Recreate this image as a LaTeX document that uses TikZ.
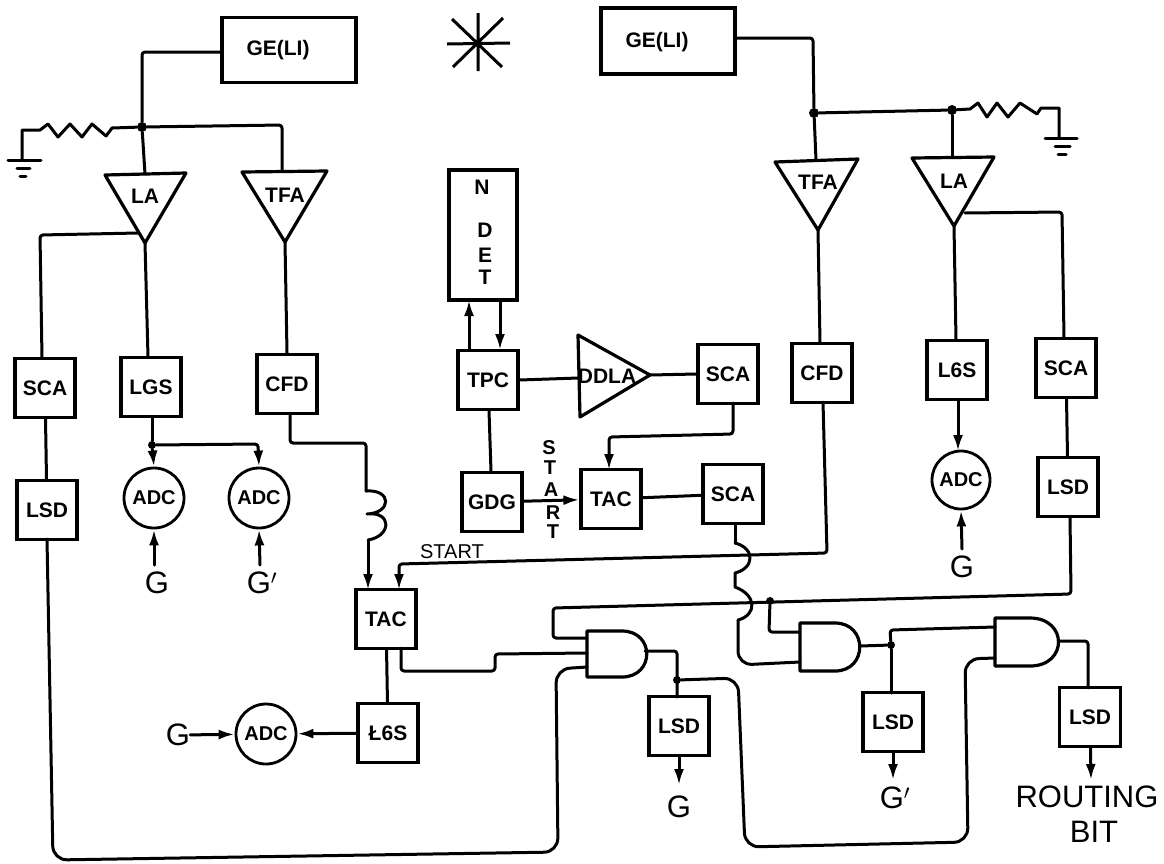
\documentclass[tikz,border=0pt]{standalone}
\usepackage{fontspec}
\setmainfont{Liberation Sans}
\usetikzlibrary{arrows.meta,calc}
\newcommand{\lab}{\fontsize{21}{23}\bfseries\selectfont}
\newcommand{\labs}{\fontsize{20}{22}\bfseries\selectfont}
\newcommand{\labst}{\fontsize{20}{22}\selectfont}
\newcommand{\labb}{\fontsize{31}{33}\selectfont}
\tikzset{
  wire/.style={line width=3pt,line join=round,line cap=round,rounded corners=3pt},
  bx/.style={draw,line width=3.2pt,minimum width=60pt,minimum height=59pt,inner sep=0pt,font=\lab},
  adcn/.style={draw,circle,line width=2.8pt,minimum size=60pt,inner sep=0pt,font=\labs},
  lbl/.style={inner sep=0pt,font=\lab},
  big/.style={inner sep=0pt,font=\labb},
  gate/.style={line width=3.2pt,line join=round,fill=white},
  arr/.style={wire,-{Latex[length=16pt,width=10pt]}},
  dotn/.style={circle,fill=black,inner sep=0pt,minimum size=10pt}
}
\begin{document}
\begin{tikzpicture}[x=1pt,y=-1pt]
\useasboundingbox (0,0) rectangle (1164,863);
% boxes
\node[bx,minimum width=134pt,minimum height=65pt] (ge1) at (289,50) {};
\node[lbl] at (278,50) {GE(LI)};
\node[bx,minimum width=134pt,minimum height=66pt] (ge2) at (668,41) {};
\node[lbl] at (657,42) {GE(LI)};
\node[bx] (scaL) at (45,388) {SCA};
\node[bx] (lsdL) at (47,510) {LSD};
\node[bx] (lgsL) at (151,387) {LGS};
\node[bx] (cfdL) at (287,384) {CFD};
\node[adcn] (adcA) at (154,498) {ADC};
\node[adcn] (adcB) at (259,498) {ADC};
\node[bx,minimum width=68pt,minimum height=130pt] (ndet) at (483,235) {};
\node[lbl] at (482,187) {N};
\node[lbl] at (485,230) {D};
\node[lbl] at (485,255) {E};
\node[lbl] at (485,277) {T};
\node[bx] (tpc) at (488,380) {TPC};
\node[bx] (gdg) at (492,502) {GDG};
\node[bx] (scaT) at (728,374) {SCA};
\node[bx] (tacM) at (611,499) {TAC};
\node[bx] (scaM) at (733,494) {SCA};
\node[bx] (tacB) at (386,619) {TAC};
\node[bx] (lgsB) at (388,733) {Ł6S};
\node[adcn] (adcC) at (266,734) {ADC};
\node[bx] (lsdA) at (679,726) {LSD};
\node[bx] (cfdR) at (822,373) {CFD};
\node[bx] (lgsR) at (957,370) {L6S};
\node[bx] (scaR) at (1066,368) {SCA};
\node[bx] (lsdR) at (1068,487) {LSD};
\node[adcn,minimum size=58pt] (adcR) at (961,480) {ADC};
\node[bx] (lsdB) at (893,722) {LSD};
\node[bx,minimum width=61pt] (lsdC) at (1090,717) {LSD};
% triangles
\draw[gate] (105,175) -- (186,173) -- (145,243) -- cycle;
\draw[gate] (242,172) -- (327,171) -- (285,242) -- cycle;
\draw[gate] (775,162) -- (858,159) -- (818,230) -- cycle;
\draw[gate] (912,158) -- (994,157) -- (954,226) -- cycle;
\draw[gate] (578,335) -- (650,375) -- (580,417) -- cycle;
\node[lbl] at (145,196) {LA};
\node[lbl] at (285,195) {TFA};
\node[lbl] at (818,182) {TFA};
\node[lbl] at (954,181) {LA};
\node[lbl] at (607,376) {DDLA};
\coordinate (laA) at (145,243);
\coordinate (tfaA) at (285,242);
\coordinate (tfaB) at (818,230);
\coordinate (laB) at (954,226);
\coordinate (ddla) at (650,375);
\coordinate (ddlaIn) at (578,378);
% and gates
\draw[gate] (587,631) -- (622,631) .. controls (655,631) and (655,677) .. (622,677) -- (587,677) -- cycle;
\draw[gate] (800,623) -- (835,623) .. controls (868,623) and (868,671) .. (835,671) -- (800,671) -- cycle;
\draw[gate] (995,618) -- (1030,618) .. controls (1068,618) and (1068,666) .. (1030,666) -- (995,666) -- cycle;
\coordinate (andAo) at (645,651);
\coordinate (andBo) at (860,646);
\coordinate (andCo) at (1058,641);
\coordinate (andAa) at (587,638);
\coordinate (andAb) at (587,653);
\coordinate (andAc) at (587,667);
\coordinate (andBa) at (800,632);
\coordinate (andBb) at (800,662);
\coordinate (andCa) at (995,627);
\coordinate (andCb) at (995,658);
% junctions
\node[dotn] (jL) at (142,127) {};
\node[dotn] (jT) at (814,113) {};
\node[dotn] (jLa) at (952,110) {};
\node[dotn,minimum size=8pt] (jG) at (152,445) {};
\node[dotn,minimum size=8pt] (jA) at (677,680) {};
\node[dotn,minimum size=8pt] (jB) at (891,645) {};
\node[dotn,minimum size=8pt] (jC) at (770,601) {};
% left input network
\draw[wire] (ge1.west |- 0,52) -- (142,52) -- (jL);
\draw[wire] (jL) -- (145,174);
\draw[wire] (jL) -- (282,125) -- (282,171);
\coordinate (gndL) at (22,160);
\draw[wire,rounded corners=0pt] (jL) -- (112,128) -- (106,136) -- (92,124) -- (82,137) -- (70,124) -- (58,137) -- (48,124) -- (40,130) -- (22,130) -- (gndL);
\draw[wire] (8,160) -- (41,160) (17,168) -- (30,168) (20,176) -- (26,176);
% right input network
\draw[wire] (ge2.east |- 0,38) -- (813,38) -- (jT);
\draw[wire] (jT) -- (816,160);
\draw[wire] (jLa) -- (952,157);
\coordinate (gndR) at (1059,137);
\draw[wire,rounded corners=0pt] (jT) -- (jLa) -- (970,109) -- (978,103) -- (987,117) -- (997,103) -- (1008,117) -- (1020,103) -- (1037,114) -- (1041,108) -- (1059,108) -- (gndR);
\draw[wire] (1045,138) -- (1077,138) (1055,146) -- (1070,146) (1058,154) -- (1066,154);
% left chain
\draw[wire] (138,233) -- (40,235) -- (42,358);
\draw[wire] (scaL) -- (lsdL);
\draw[wire] (laA) -- (148,357);
\draw[wire] (lgsL.south -| jG) -- (jG);
\draw[arr] (jG) -- (adcA.north);
\draw[arr] (jG) -- (258,444) -- (adcB.north);
\draw[wire] (tfaA) -- (cfdL.north);
\node[big] (gA) at (157,583) {G};
\node[big] (gB) at (262,583) {G$'$};
\draw[arr] (154,565) -- (adcA.south);
\draw[arr] (260,565) -- (adcB.south);
% coil to TAC
\coordinate (cS) at (366,491);
\coordinate (cE) at (368,540);
\draw[wire] (290,413) -- (290,443) -- (366,443) -- (cS);
\draw[wire,rounded corners=0pt] (cS) .. controls (392,489) and (392,513) .. (367,514) .. controls (392,511) and (392,536) .. (cE);
\draw[arr] (cE) -- (368,590);
% START wire
\node[lbl,font=\labst] (st) at (452,552) {START};
\draw[arr] (823,402) -- (827,553) -- (399,564) -- (399,590);
% centre
\draw[arr] (469,350) -- (469,300);
\draw[arr] (500,300) -- (500,350);
\draw[wire] (tpc.east) -- (ddlaIn);
\draw[wire] (ddla) -- (scaT.west);
\draw[wire] (tpc) -- (gdg);
\draw[arr] (gdg) -- (tacM);
\draw[wire] (tacM) -- (scaM);
\draw[arr] (733,403) -- (733,434) -- (609,437) -- (609,470);
\node[lbl,font=\labs] at (549,448) {S};
\node[lbl,font=\labs] at (550,468) {T};
\node[lbl,font=\labs] at (551,490) {A};
\node[lbl,font=\labs] at (553,513) {R};
\node[lbl,font=\labs] at (553,532) {T};
% right chain
\draw[wire] (tfaB) -- (820,343);
\draw[wire] (laB) -- (956,340);
\draw[arr] (958,400) -- (958,451);
\draw[wire] (965,213) -- (1062,212) -- (1064,338);
\draw[wire] (scaR) -- (lsdR);
\node[big] (gR) at (962,567) {G};
\draw[arr] (962,549) -- (adcR.south);
% lower left
\draw[wire] (tacB) -- (lgsB);
\draw[arr] (lgsB) -- (adcC);
\node[big] (gC) at (178,735) {G};
\draw[arr] (gC) -- (adcC);
% and gate wiring
\draw[wire] (1070,517) -- (1071,594) -- (553,608) -- (553,638) -- (andAa);
\draw[wire] (jC) -- (769,632) -- (andBa);
\draw[wire] (401,648) -- (401,671) -- (495,671) -- (495,654) -- (andAb);
\draw[wire,rounded corners=14pt] (47,539) -- (53,860) -- (558,852) -- (556,669) -- (andAc);
\draw[wire] (andAo) -- (677,651) -- (677,697);
\draw[wire,rounded corners=14pt] (jA) -- (738,678) -- (745,847) -- (968,842) -- (965,659) -- (andCb);
\draw[arr] (lsdA) -- (679,785);
\node[big] (gD) at (679,807) {G};
\draw[wire] (andBo) -- (jB);
\draw[wire] (jB) -- (891,693);
\draw[wire] (jB) -- (890,630) -- (andCa);
\draw[arr] (lsdB) -- (893,780);
\node[big] (gE) at (895,798) {G$'$};
\draw[wire] (andCo) -- (1088,641) -- (1088,688);
\draw[arr] (lsdC) -- (1091,780);
\node[big] (rt) at (1087,797) {ROUTING};
\node[big] (bt) at (1094,832) {BIT};
% SCA crossing coil
\draw[wire] (735,524) -- (735,543);
\draw[wire,rounded corners=0pt] (735,543) .. controls (755,548) and (755,568) .. (735,573) -- (735,587) .. controls (757,595) and (757,615) .. (738,620);
\draw[wire,rounded corners=14pt] (738,620) -- (738,665) -- (andBb);
% star
\coordinate (star) at (478,43);
\draw[line width=3pt] (447,44) -- (510,43) (478,13) -- (478,71) (452,19) -- (502,67) (453,67) -- (503,18);
\end{tikzpicture}
\end{document}
